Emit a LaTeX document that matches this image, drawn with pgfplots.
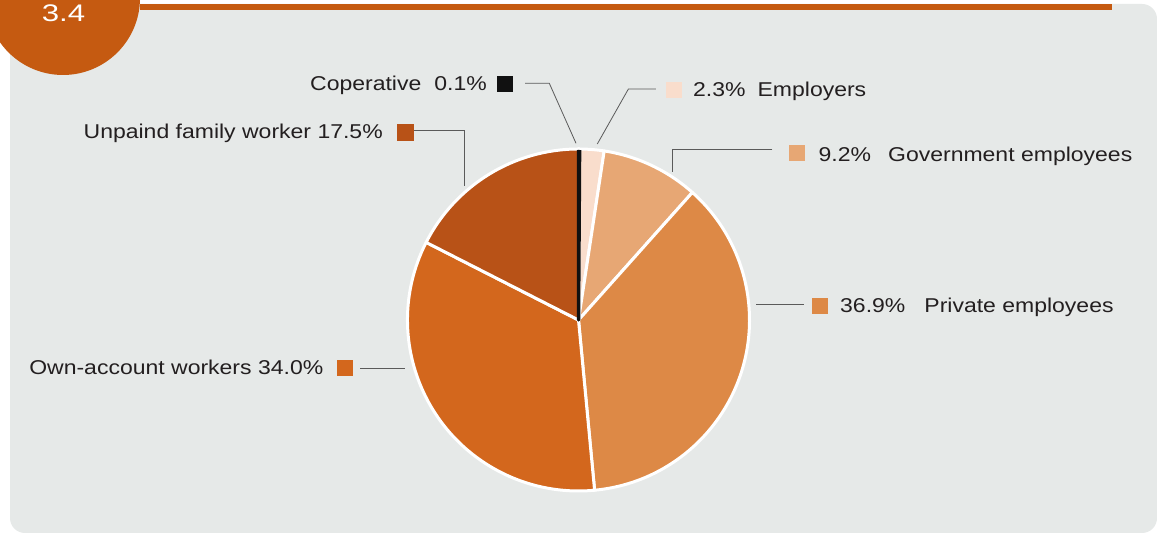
\documentclass[border=0pt]{standalone}
\usepackage{pgfplots}
\pgfplotsset{compat=1.18}
\usepackage{pgfplotstable}
\usepackage{fontspec}
\setmainfont{Liberation Sans}[FakeStretch=1.15]
\newfontfamily\numfont{Liberation Sans}[FakeStretch=1.3]

\definecolor{panel}{HTML}{E6E9E8}
\definecolor{brand}{HTML}{C55A11}
\definecolor{cCop}{HTML}{111111}
\definecolor{cEmp}{HTML}{F9DDCC}
\definecolor{cGov}{HTML}{E7A774}
\definecolor{cPri}{HTML}{DD8946}
\definecolor{cOwn}{HTML}{D3671D}
\definecolor{cUnp}{HTML}{B85217}
\definecolor{leader}{HTML}{5A5A5A}
\definecolor{txt}{HTML}{231F20}

\pgfplotstableread{
name value
Coperative 0.1
Employers 2.3
Government 9.2
Private 36.9
Own 34.0
Unpaid 17.5
}\piedata

\pgfplotstablegetelem{0}{value}\of\piedata \pgfmathsetmacro\vA{\pgfplotsretval}
\pgfplotstablegetelem{1}{value}\of\piedata \pgfmathsetmacro\vB{\pgfplotsretval}
\pgfplotstablegetelem{2}{value}\of\piedata \pgfmathsetmacro\vC{\pgfplotsretval}
\pgfplotstablegetelem{3}{value}\of\piedata \pgfmathsetmacro\vD{\pgfplotsretval}
\pgfplotstablegetelem{4}{value}\of\piedata \pgfmathsetmacro\vE{\pgfplotsretval}
\pgfplotstablegetelem{5}{value}\of\piedata \pgfmathsetmacro\vF{\pgfplotsretval}
\pgfmathsetmacro\aA{90}
\pgfmathsetmacro\aB{\aA-3.6*\vA}
\pgfmathsetmacro\aC{\aB-3.6*\vB}
\pgfmathsetmacro\aD{\aC-3.6*\vC}
\pgfmathsetmacro\aE{\aD-3.6*\vD}
\pgfmathsetmacro\aF{\aE-3.6*\vE}
\pgfmathsetmacro\aG{\aF-3.6*\vF}

\newcommand\slice[4][white]{%
  \fill[#4,draw=#1,line width=3pt,line join=round]
    (axis cs:578.5,214) -- ++(#2:171pt) arc[start angle=#2,end angle=#3,radius=171pt] -- cycle;}

\begin{document}
\begin{tikzpicture}
\useasboundingbox (0,0) rectangle (1157pt,534pt);
\clip (0,0) rectangle (1157pt,534pt);
\fill[white] (0,0) rectangle (1157pt,534pt);
\fill[panel,rounded corners=15pt] (10pt,1pt) rectangle (1157pt,530pt);
\fill[brand] (140pt,524pt) rectangle (1112pt,530pt);
\fill[brand] (63pt,536pt) circle (77pt);
\node[anchor=base,inner sep=0,text=white,font=\numfont\fontsize{24}{24}\selectfont] at (63.5pt,512pt) {3.4};

\begin{axis}[at={(0pt,0pt)},anchor=south west,scale only axis,
  width=1157pt,height=534pt,xmin=0,xmax=1157,ymin=0,ymax=534,
  hide axis,clip=false]

% pie slices
\slice{\aB}{\aA}{cCop}
\slice{\aC}{\aB}{cEmp}
\slice{\aD}{\aC}{cGov}
\slice{\aE}{\aD}{cPri}
\slice{\aF}{\aE}{cOwn}
\slice{\aG}{\aF}{cUnp}
\begin{scope}
\clip (axis cs:578.5,214) circle (170pt);
\fill[cCop,draw=cCop,line width=3.5pt,line join=round]
  (axis cs:578.5,214) -- ++(\aB:171pt) arc[start angle=\aB,end angle=\aA,radius=171pt] -- cycle;
\end{scope}

% leader lines
\addplot[leader,line width=0.8pt] coordinates {(525,450.7) (549.3,450.7) (576,390.7)};
\addplot[leader,line width=0.8pt] coordinates {(655.8,445) (628.4,445) (597.3,390)};
\addplot[leader,line width=0.8pt] coordinates {(772.3,384.5) (672,384.5) (672,362.3)};
\addplot[leader,line width=0.8pt] coordinates {(756,229.7) (804,229.7)};
\addplot[leader,line width=0.8pt] coordinates {(360,165.7) (405,165.7)};
\addplot[leader,line width=0.8pt] coordinates {(413,403.3) (464,403.3) (464,348)};

% legend squares
\addplot[only marks,mark=square*,mark size=7.5pt,color=cCop,mark options={draw=none}] coordinates {(504.2,450.2)};
\addplot[only marks,mark=square*,mark size=7.3pt,color=cEmp,mark options={draw=none}] coordinates {(673.7,444.5)};
\addplot[only marks,mark=square*,mark size=7.3pt,color=cGov,mark options={draw=none}] coordinates {(796.5,381)};
\addplot[only marks,mark=square*,mark size=7.7pt,color=cPri,mark options={draw=none}] coordinates {(819.5,228.5)};
\addplot[only marks,mark=square*,mark size=7.5pt,color=cOwn,mark options={draw=none}] coordinates {(344.2,165.8)};
\addplot[only marks,mark=square*,mark size=8pt,color=cUnp,mark options={draw=none}] coordinates {(404.7,402)};

% labels
\begin{scope}[every node/.style={inner sep=0,text=txt,font=\fontsize{20}{20}\selectfont}]
\node[anchor=base east] at (axis cs:487,443) {Coperative\hspace{13pt}0.1\%};
\node[anchor=base west] at (axis cs:693,437) {2.3\%\hspace{12pt}Employers};
\node[anchor=base west] at (axis cs:818.5,372.4) {9.2\%\hspace{17pt}Government employees};
\node[anchor=base west] at (axis cs:840,221.3) {36.9\%\hspace{19pt}Private employees};
\node[anchor=base east] at (axis cs:323.5,159) {Own-account workers 34.0\%};
\node[anchor=base east] at (axis cs:383,395.7) {Unpaind family worker 17.5\%};
\end{scope}
\end{axis}
\end{tikzpicture}
\end{document}
